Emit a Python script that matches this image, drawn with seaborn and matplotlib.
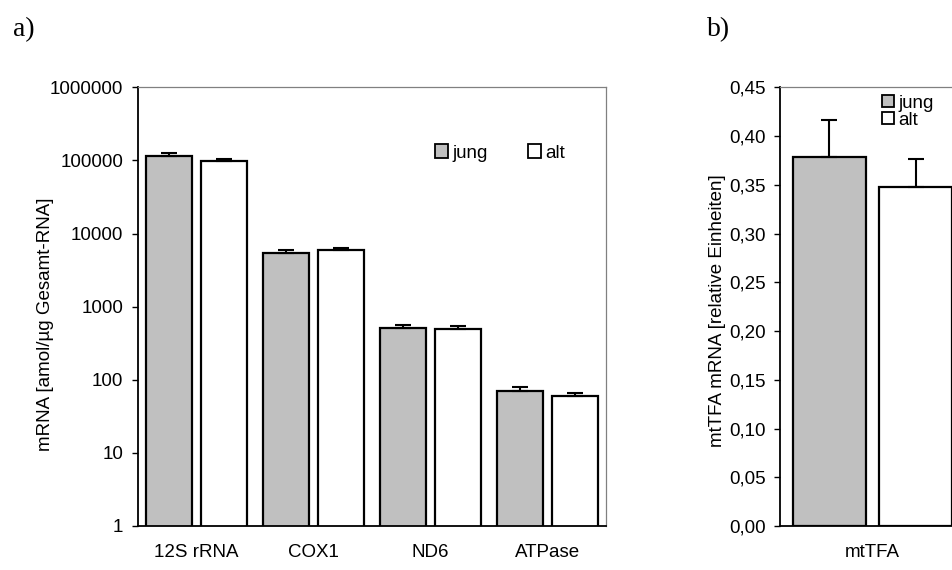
import matplotlib
matplotlib.use("Agg")
import matplotlib.pyplot as plt
import matplotlib.ticker as mticker
from matplotlib.patches import Patch
import seaborn as sns
import pandas as pd


# a) mitochondriale Transkripte, log-Skala
gene = ["12S rRNA", "COX1", "ND6", "ATPase"]
jung_mrna = [115000, 5500, 510, 71]
alt_mrna = [99000, 5900, 500, 60]
jung_mrna_err = [12000, 420, 55, 9]
alt_mrna_err = [5000, 440, 50, 6]

# b) mtTFA
tfa = ["mtTFA"]
jung_tfa = [0.379]
alt_tfa = [0.348]
jung_tfa_err = [0.037]
alt_tfa_err = [0.028]

gruppen = ["jung", "alt"]
farben = {"jung": "#c0c0c0", "alt": "#ffffff"}

log_ticks = [1, 10, 100, 1000, 10000, 100000, 1000000]
lin_ticks = [0.00, 0.05, 0.10, 0.15, 0.20, 0.25, 0.30, 0.35, 0.40, 0.45]

W, H = 953, 570
plt.rcParams["font.family"] = ["Liberation Sans", "DejaVu Sans"]
SCHRIFT = 13.5


def balken(ax, kategorien, jung, alt, jung_err, alt_err):
    df = pd.DataFrame({
        "kategorie": kategorien * 2,
        "gruppe": ["jung"] * len(kategorien) + ["alt"] * len(kategorien),
        "wert": jung + alt,
    })
    sns.barplot(data=df, x="kategorie", y="wert", hue="gruppe", hue_order=gruppen,
                palette=farben, width=0.93, gap=0.15, edgecolor="black",
                linewidth=1.6, errorbar=None, legend=False, ax=ax)
    for container, err in zip(ax.containers, [jung_err, alt_err]):
        x = [b.get_x() + b.get_width() / 2 for b in container]
        y = [b.get_height() for b in container]
        ax.errorbar(x, y, yerr=[[0] * len(err), err], fmt="none", ecolor="black",
                    elinewidth=1.5, capsize=5.5, capthick=1.5, zorder=5)
    ax.set_xlim(-0.5, len(kategorien) - 0.5)
    ax.set_xlabel("")
    ax.tick_params(axis="x", length=0, pad=13, labelsize=SCHRIFT)
    ax.tick_params(axis="y", length=4.5, width=1, direction="out", pad=6, labelsize=SCHRIFT)
    for s in ["left", "bottom"]:
        ax.spines[s].set_color("black")
        ax.spines[s].set_linewidth(1.3)
    for s in ["top", "right"]:
        ax.spines[s].set_color("#808080")
        ax.spines[s].set_linewidth(0.9)


def achse(links, rechts, oben=87.3, unten=526):
    return fig.add_axes([links / W, 1 - unten / H, (rechts - links) / W, (unten - oben) / H])


fig = plt.figure(figsize=(W / 100, H / 100), dpi=100)

ax_a = achse(138, 606)
balken(ax_a, gene, jung_mrna, alt_mrna, jung_mrna_err, alt_mrna_err)
ax_a.set_yscale("log")
ax_a.set_ylim(1, 1000000)
ax_a.set_yticks(log_ticks, labels=[str(t) for t in log_ticks])
ax_a.yaxis.set_minor_locator(mticker.NullLocator())
ax_a.set_ylabel("mRNA [amol/µg Gesamt-RNA]", fontsize=SCHRIFT)
ax_a.yaxis.set_label_coords(-0.18, 0.46)

ax_b = achse(780, 965)
balken(ax_b, tfa, jung_tfa, alt_tfa, jung_tfa_err, alt_tfa_err)
ax_b.set_ylim(0, 0.45)
ax_b.set_yticks(lin_ticks, labels=[f"{t:.2f}".replace(".", ",") for t in lin_ticks])
ax_b.set_ylabel("mtTFA mRNA [relative Einheiten]", fontsize=SCHRIFT)
ax_b.yaxis.set_label_coords(-0.29, 0.49)

handles = [Patch(facecolor=farben[g], edgecolor="black", linewidth=1.3) for g in gruppen]
fig.legend(handles, gruppen, ncol=2, frameon=False, loc="center",
           bbox_to_anchor=(500 / W, 1 - 153 / H), fontsize=SCHRIFT,
           handlelength=0.7, handleheight=0.7, handletextpad=0.25, columnspacing=2.1)
fig.legend(handles, gruppen, ncol=1, frameon=False, loc="center",
           bbox_to_anchor=(908 / W, 1 - 112 / H), fontsize=SCHRIFT,
           handlelength=0.6, handleheight=0.6, handletextpad=0.25, labelspacing=0.0)

fig.text(13 / W, 1 - 30 / H, "a)", fontsize=20, family="Liberation Serif", va="center")
fig.text(707 / W, 1 - 30 / H, "b)", fontsize=20, family="Liberation Serif", va="center")

fig.savefig("out.png", dpi=100)
